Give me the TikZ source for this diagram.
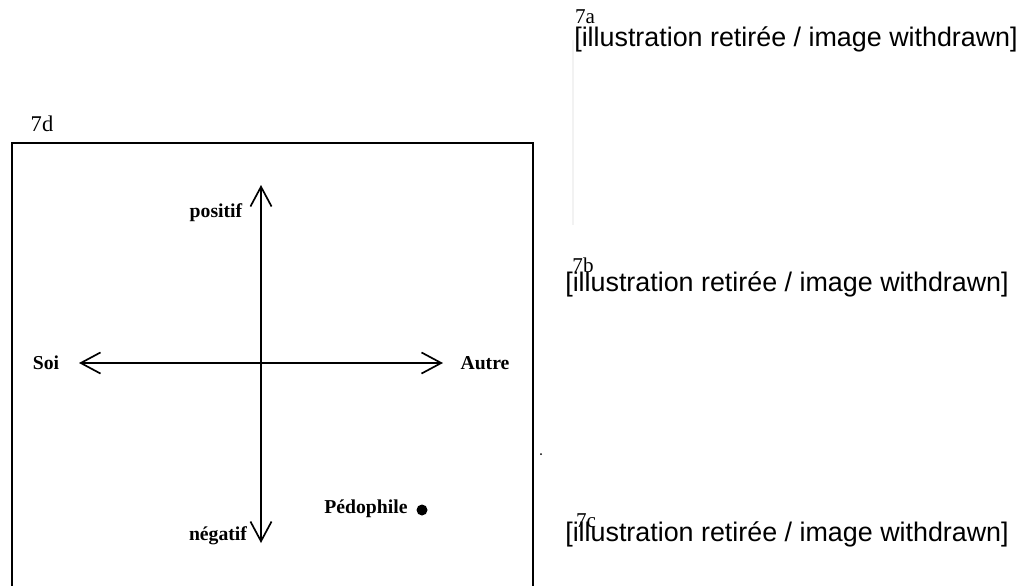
\documentclass[tikz,border=0pt]{standalone}
\usepackage{fontspec}
\setmainfont{Liberation Serif}
\newfontfamily\arialfont{Liberation Sans}
\usetikzlibrary{arrows.meta}
\begin{document}
\begin{tikzpicture}[x=0.711pt, y=-0.711pt,
  axislabel/.style={font=\fontsize{14}{16}\selectfont\bfseries},
  axisarrow/.style={line width=1.2pt, {Straight Barb[length=14pt,width=15pt]}-{Straight Barb[length=14pt,width=15pt]}},
  figtag/.style={font=\fontsize{15}{17}\selectfont, inner sep=0pt},
  withdrawn/.style={font=\arialfont\fontsize{19.1}{21}\selectfont, fill=white, inner sep=0pt, anchor=west}]
\useasboundingbox (0,0) rectangle (1021,586);

% panel 7d: open frame running off the bottom
\node[font=\fontsize{16}{18}\selectfont] (tagd) at (42,124) {7d};
\draw[line width=1pt] (12,586) -- (12,143) -- (533,143) -- (533,586);

% the two axes
\coordinate (up) at (261,185);
\coordinate (down) at (261,543);
\coordinate (left) at (79,363);
\coordinate (right) at (443,363);
\draw[axisarrow] (down) -- (up);
\draw[axisarrow] (left) -- (right);

\node[axislabel] (pos) at (216,213) {positif};
\node[axislabel] (neg) at (218,536) {négatif};
\node[axislabel] (soi) at (46,363) {Soi};
\node[axislabel] (autre) at (485,363) {Autre};
\node[axislabel] (pedo) at (366,509) {Pédophile};
\fill (422,510) circle (5.5);
\fill (541,454) circle (1);

% withdrawn panels 7a-7c (7b sits under its caption)
\draw[black!5, line width=0.8pt] (573,40) -- (573,225);
\node[figtag] (tagb) at (583,265) {7b};
\foreach \tag/\lx/\ly in {a/574/39.5, b/565/284.5, c/565/534.5} {
  \node[withdrawn] (wd\tag) at (\lx,\ly) {[illustration retirée / image withdrawn]};
}
\node[figtag] (taga) at (585,17) {7a};
\node[figtag] (tagc) at (586,521) {7c};
\end{tikzpicture}
\end{document}
